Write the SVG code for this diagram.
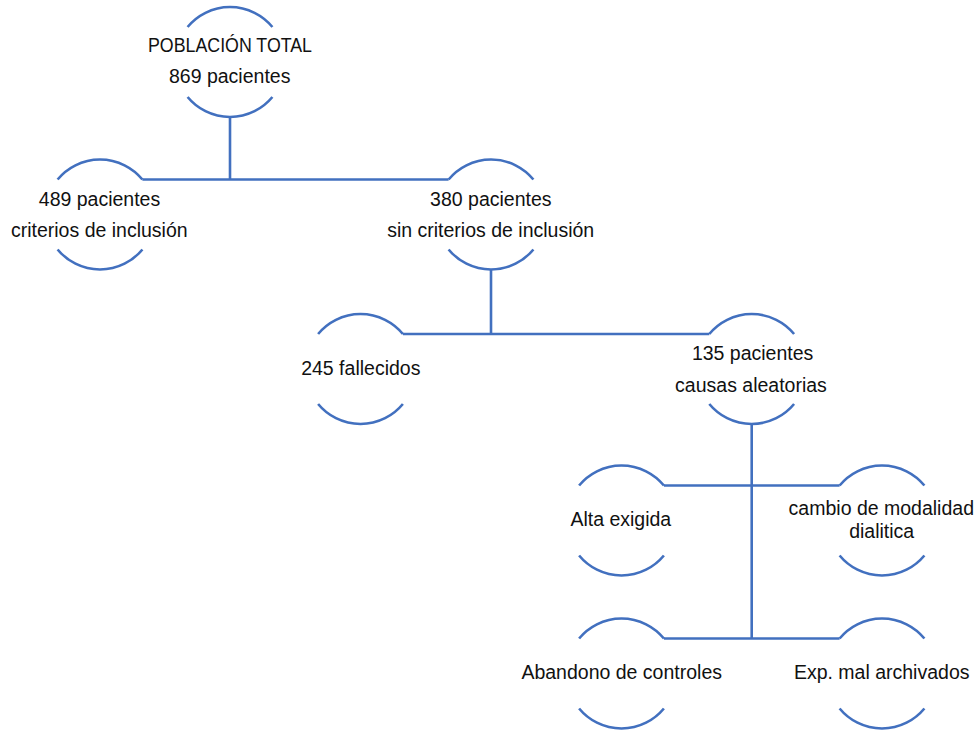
<svg xmlns="http://www.w3.org/2000/svg" xmlns:xlink="http://www.w3.org/1999/xlink" width="979" height="732" viewBox="0 0 979 732">
  <style>
    .ring { fill: none; stroke: #4270BF; stroke-width: 2.6; }
    .conn { fill: none; stroke: #4270BF; stroke-width: 2.6; }
    .lbl { font-family: "Liberation Sans", Arial, sans-serif; font-size: 19.5px; fill: #111; text-anchor: middle; }
  </style>
  <defs>
    <path id="ring" class="ring" d="M -42.4 -35 A 55 55 0 0 1 42.4 -35 M -42.4 35 A 55 55 0 0 0 42.4 35"/>
  </defs>
  <rect width="979" height="732" fill="#ffffff"/>
  <g id="connectors">
    <path class="conn" d="M 230 117 V 179.5"/>
    <path class="conn" d="M 142.4 179.5 H 448.6"/>
    <path class="conn" d="M 491 269.5 V 334"/>
    <path class="conn" d="M 402.9 334 H 709.3"/>
    <path class="conn" d="M 751.7 424 V 638.5"/>
    <path class="conn" d="M 663.9 485.5 H 839.6"/>
    <path class="conn" d="M 663.9 638.5 H 839.6"/>
  </g>
  <g id="node-total">
    <use xlink:href="#ring" href="#ring" x="230" y="62"/>
    <text class="lbl" x="230" y="52" textLength="164" lengthAdjust="spacingAndGlyphs">POBLACIÓN TOTAL</text>
    <text class="lbl" x="229.7" y="82.5">869 pacientes</text>
  </g>
  <g id="node-489">
    <use xlink:href="#ring" href="#ring" x="100" y="214.5"/>
    <text class="lbl" x="99.5" y="206">489 pacientes</text>
    <text class="lbl" x="99.3" y="237">criterios de inclusión</text>
  </g>
  <g id="node-380">
    <use xlink:href="#ring" href="#ring" x="491" y="214.5"/>
    <text class="lbl" x="490.8" y="206">380 pacientes</text>
    <text class="lbl" x="490.7" y="237">sin criterios de inclusión</text>
  </g>
  <g id="node-245">
    <use xlink:href="#ring" href="#ring" x="360.5" y="369"/>
    <text class="lbl" x="360.8" y="375">245 fallecidos</text>
  </g>
  <g id="node-135">
    <use xlink:href="#ring" href="#ring" x="751.7" y="369"/>
    <text class="lbl" x="752.6" y="360">135 pacientes</text>
    <text class="lbl" x="751" y="392">causas aleatorias</text>
  </g>
  <g id="node-alta">
    <use xlink:href="#ring" href="#ring" x="621.5" y="520.5"/>
    <text class="lbl" x="620.8" y="526">Alta exigida</text>
  </g>
  <g id="node-cambio">
    <use xlink:href="#ring" href="#ring" x="882" y="520.5"/>
    <text class="lbl" x="881.3" y="515">cambio de modalidad</text>
    <text class="lbl" x="881.7" y="538.3">dialitica</text>
  </g>
  <g id="node-abandono">
    <use xlink:href="#ring" href="#ring" x="621.5" y="673.5"/>
    <text class="lbl" x="621.7" y="679">Abandono de controles</text>
  </g>
  <g id="node-exp">
    <use xlink:href="#ring" href="#ring" x="882" y="673.5"/>
    <text class="lbl" x="881.7" y="679">Exp. mal archivados</text>
  </g>
</svg>
